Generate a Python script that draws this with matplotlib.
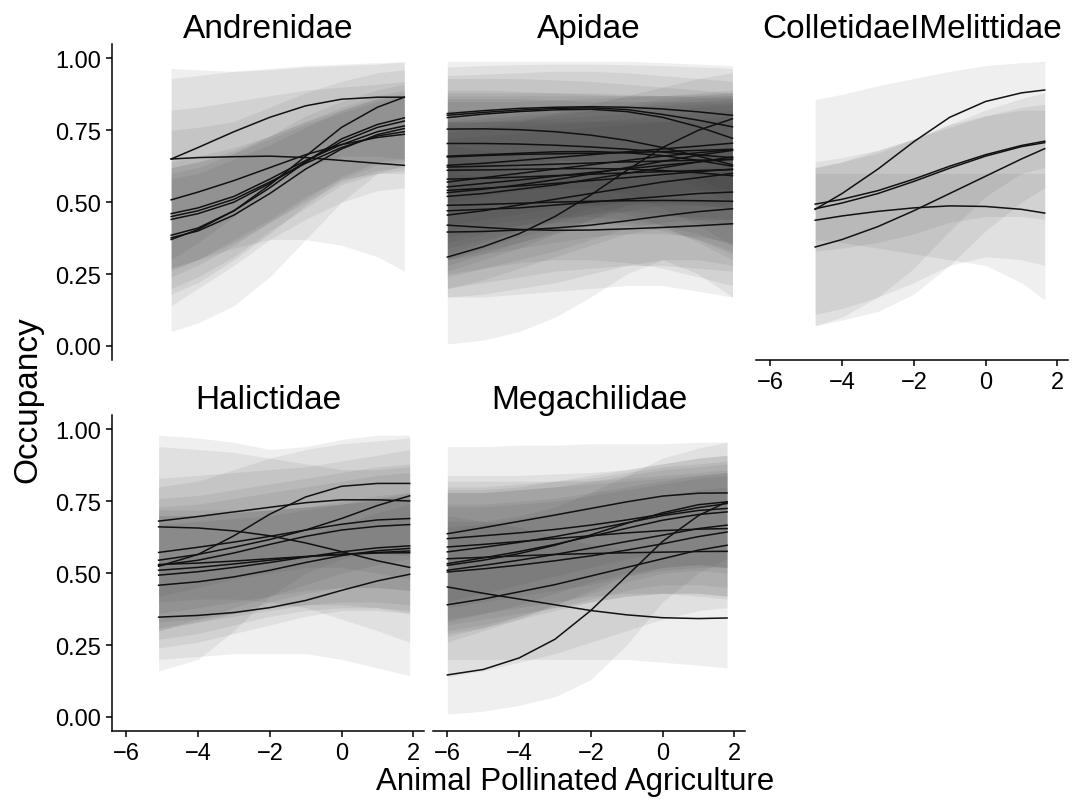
import matplotlib
matplotlib.use("Agg")
import matplotlib.pyplot as plt

plt.rcParams['font.family'] = ['Liberation Sans', 'DejaVu Sans']

# ---- datos (ocupacion por especie) ----
yticks = [0.0, 0.25, 0.5, 0.75, 1.0]
ytick_labels = ['0.00', '0.25', '0.50', '0.75', '1.00']
xticks = [-6, -4, -2, 0, 2]

# Andrenidae
andrenidae_x = [-4.75, -4, -3, -2, -1, 0, 1, 1.75]
andrenidae_mid = [
    [0.65, 0.69, 0.745, 0.795, 0.835, 0.858, 0.865, 0.865],
    [0.65, 0.655, 0.658, 0.66, 0.655, 0.645, 0.635, 0.628],
    [0.37, 0.405, 0.47, 0.56, 0.66, 0.76, 0.83, 0.865],
    [0.508, 0.535, 0.575, 0.62, 0.665, 0.70, 0.725, 0.736],
    [0.46, 0.48, 0.52, 0.58, 0.645, 0.70, 0.745, 0.765],
    [0.45, 0.47, 0.51, 0.57, 0.635, 0.69, 0.73, 0.745],
    [0.44, 0.46, 0.50, 0.565, 0.64, 0.71, 0.76, 0.782],
    [0.385, 0.41, 0.47, 0.55, 0.64, 0.72, 0.77, 0.793],
    [0.376, 0.40, 0.455, 0.53, 0.615, 0.685, 0.735, 0.756],
]
andrenidae_lo = [
    [0.30, 0.36, 0.45, 0.55, 0.62, 0.66, 0.66, 0.65],
    [0.26, 0.30, 0.34, 0.37, 0.37, 0.35, 0.31, 0.26],
    [0.05, 0.08, 0.14, 0.24, 0.37, 0.50, 0.60, 0.63],
    [0.14, 0.20, 0.28, 0.37, 0.44, 0.50, 0.54, 0.55],
    [0.27, 0.30, 0.36, 0.43, 0.50, 0.57, 0.61, 0.62],
    [0.27, 0.30, 0.37, 0.44, 0.52, 0.58, 0.60, 0.60],
    [0.24, 0.28, 0.35, 0.43, 0.51, 0.59, 0.64, 0.65],
    [0.18, 0.22, 0.30, 0.39, 0.49, 0.58, 0.63, 0.64],
    [0.20, 0.24, 0.31, 0.40, 0.48, 0.56, 0.60, 0.61],
]
andrenidae_hi = [
    [0.93, 0.94, 0.955, 0.965, 0.975, 0.98, 0.985, 0.985],
    [0.965, 0.96, 0.955, 0.96, 0.97, 0.975, 0.98, 0.99],
    [0.75, 0.76, 0.78, 0.83, 0.88, 0.92, 0.95, 0.96],
    [0.82, 0.83, 0.85, 0.87, 0.89, 0.90, 0.91, 0.92],
    [0.64, 0.66, 0.69, 0.73, 0.78, 0.82, 0.86, 0.87],
    [0.62, 0.64, 0.67, 0.72, 0.77, 0.81, 0.85, 0.87],
    [0.62, 0.64, 0.68, 0.73, 0.78, 0.83, 0.87, 0.89],
    [0.60, 0.62, 0.67, 0.73, 0.80, 0.85, 0.89, 0.91],
    [0.58, 0.60, 0.65, 0.70, 0.76, 0.82, 0.86, 0.88],
]

# Apidae
apidae_x = [-6, -5, -4, -3, -2, -1, 0, 1, 1.95]
apidae_mid = [
    [0.808, 0.818, 0.826, 0.830, 0.832, 0.830, 0.824, 0.814, 0.802],
    [0.802, 0.812, 0.820, 0.826, 0.828, 0.822, 0.805, 0.785, 0.762],
    [0.794, 0.806, 0.815, 0.821, 0.823, 0.815, 0.795, 0.762, 0.722],
    [0.754, 0.755, 0.752, 0.745, 0.733, 0.715, 0.690, 0.660, 0.630],
    [0.704, 0.704, 0.702, 0.698, 0.692, 0.684, 0.674, 0.664, 0.655],
    [0.657, 0.662, 0.666, 0.668, 0.670, 0.672, 0.676, 0.680, 0.684],
    [0.628, 0.635, 0.645, 0.655, 0.665, 0.675, 0.685, 0.695, 0.705],
    [0.622, 0.625, 0.628, 0.632, 0.636, 0.640, 0.643, 0.646, 0.648],
    [0.611, 0.612, 0.614, 0.616, 0.617, 0.615, 0.610, 0.602, 0.592],
    [0.570, 0.585, 0.600, 0.615, 0.630, 0.645, 0.660, 0.672, 0.682],
    [0.553, 0.565, 0.577, 0.590, 0.603, 0.616, 0.628, 0.640, 0.650],
    [0.541, 0.548, 0.556, 0.565, 0.575, 0.585, 0.596, 0.606, 0.615],
    [0.533, 0.545, 0.560, 0.578, 0.598, 0.620, 0.642, 0.663, 0.680],
    [0.489, 0.492, 0.496, 0.500, 0.503, 0.505, 0.506, 0.505, 0.503],
    [0.455, 0.470, 0.490, 0.510, 0.530, 0.550, 0.570, 0.585, 0.600],
    [0.420, 0.412, 0.405, 0.402, 0.403, 0.407, 0.412, 0.418, 0.425],
    [0.396, 0.398, 0.403, 0.410, 0.420, 0.435, 0.452, 0.467, 0.477],
    [0.309, 0.345, 0.390, 0.450, 0.525, 0.610, 0.690, 0.750, 0.790],
    [0.660, 0.665, 0.670, 0.675, 0.676, 0.672, 0.662, 0.645, 0.625],
    [0.580, 0.583, 0.587, 0.592, 0.597, 0.602, 0.606, 0.610, 0.613],
    [0.520, 0.530, 0.545, 0.560, 0.580, 0.600, 0.620, 0.640, 0.657],
    [0.470, 0.475, 0.480, 0.490, 0.500, 0.510, 0.520, 0.530, 0.535],
]
apidae_lo = [
    [0.60, 0.62, 0.64, 0.645, 0.645, 0.64, 0.62, 0.58, 0.53],
    [0.60, 0.62, 0.635, 0.645, 0.645, 0.635, 0.60, 0.55, 0.50],
    [0.50, 0.52, 0.54, 0.55, 0.55, 0.53, 0.48, 0.42, 0.35],
    [0.48, 0.49, 0.50, 0.50, 0.49, 0.46, 0.42, 0.36, 0.30],
    [0.40, 0.42, 0.44, 0.45, 0.45, 0.44, 0.42, 0.39, 0.35],
    [0.36, 0.39, 0.42, 0.44, 0.46, 0.47, 0.46, 0.44, 0.42],
    [0.34, 0.37, 0.40, 0.43, 0.46, 0.49, 0.50, 0.50, 0.49],
    [0.42, 0.44, 0.46, 0.48, 0.49, 0.50, 0.50, 0.49, 0.48],
    [0.30, 0.34, 0.38, 0.41, 0.43, 0.43, 0.41, 0.37, 0.32],
    [0.32, 0.36, 0.40, 0.44, 0.48, 0.51, 0.53, 0.54, 0.53],
    [0.28, 0.32, 0.36, 0.40, 0.44, 0.47, 0.49, 0.49, 0.48],
    [0.30, 0.33, 0.36, 0.39, 0.42, 0.44, 0.45, 0.45, 0.44],
    [0.26, 0.30, 0.34, 0.39, 0.44, 0.49, 0.52, 0.54, 0.55],
    [0.25, 0.27, 0.29, 0.30, 0.30, 0.29, 0.27, 0.24, 0.21],
    [0.20, 0.23, 0.27, 0.31, 0.35, 0.39, 0.41, 0.42, 0.42],
    [0.17, 0.17, 0.18, 0.19, 0.20, 0.21, 0.21, 0.19, 0.17],
    [0.17, 0.18, 0.20, 0.22, 0.25, 0.28, 0.30, 0.30, 0.28],
    [0.007, 0.02, 0.05, 0.10, 0.17, 0.25, 0.30, 0.25, 0.17],
    [0.38, 0.40, 0.42, 0.43, 0.43, 0.42, 0.40, 0.37, 0.33],
    [0.30, 0.32, 0.34, 0.36, 0.38, 0.39, 0.39, 0.38, 0.36],
    [0.24, 0.27, 0.30, 0.33, 0.37, 0.41, 0.43, 0.44, 0.44],
    [0.20, 0.22, 0.24, 0.26, 0.27, 0.28, 0.28, 0.27, 0.26],
]
apidae_hi = [
    [0.97, 0.975, 0.978, 0.98, 0.98, 0.978, 0.975, 0.97, 0.965],
    [0.94, 0.945, 0.95, 0.955, 0.955, 0.95, 0.94, 0.93, 0.92],
    [0.99, 0.99, 0.99, 0.99, 0.99, 0.99, 0.985, 0.98, 0.975],
    [0.93, 0.93, 0.93, 0.925, 0.92, 0.91, 0.90, 0.89, 0.88],
    [0.89, 0.89, 0.885, 0.88, 0.875, 0.87, 0.87, 0.87, 0.87],
    [0.87, 0.87, 0.87, 0.87, 0.87, 0.87, 0.87, 0.875, 0.88],
    [0.85, 0.85, 0.85, 0.855, 0.86, 0.865, 0.87, 0.88, 0.89],
    [0.78, 0.78, 0.78, 0.78, 0.78, 0.78, 0.78, 0.78, 0.78],
    [0.86, 0.86, 0.86, 0.855, 0.85, 0.85, 0.85, 0.85, 0.85],
    [0.79, 0.80, 0.81, 0.82, 0.83, 0.84, 0.86, 0.87, 0.88],
    [0.78, 0.79, 0.80, 0.81, 0.82, 0.83, 0.84, 0.85, 0.86],
    [0.76, 0.76, 0.765, 0.77, 0.78, 0.79, 0.80, 0.81, 0.82],
    [0.77, 0.78, 0.79, 0.80, 0.82, 0.83, 0.85, 0.86, 0.87],
    [0.66, 0.64, 0.62, 0.60, 0.60, 0.60, 0.61, 0.62, 0.63],
    [0.72, 0.73, 0.74, 0.75, 0.76, 0.77, 0.78, 0.79, 0.80],
    [0.64, 0.62, 0.60, 0.58, 0.58, 0.58, 0.59, 0.60, 0.61],
    [0.60, 0.59, 0.59, 0.60, 0.61, 0.63, 0.65, 0.67, 0.68],
    [0.74, 0.76, 0.78, 0.81, 0.84, 0.87, 0.90, 0.93, 0.95],
    [0.88, 0.88, 0.88, 0.88, 0.88, 0.875, 0.87, 0.865, 0.86],
    [0.82, 0.82, 0.82, 0.82, 0.825, 0.83, 0.835, 0.84, 0.845],
    [0.78, 0.78, 0.785, 0.79, 0.80, 0.81, 0.82, 0.83, 0.84],
    [0.70, 0.68, 0.66, 0.64, 0.62, 0.60, 0.60, 0.60, 0.60],
]

# ColletidaeIMelittidae
colletidae_x = [-4.75, -4, -3, -2, -1, 0, 1, 1.65]
colletidae_mid = [
    [0.475, 0.53, 0.615, 0.71, 0.795, 0.85, 0.88, 0.89],
    [0.493, 0.51, 0.54, 0.58, 0.625, 0.665, 0.697, 0.712],
    [0.477, 0.497, 0.53, 0.572, 0.618, 0.66, 0.693, 0.707],
    [0.437, 0.452, 0.468, 0.48, 0.487, 0.485, 0.475, 0.462],
    [0.344, 0.37, 0.415, 0.47, 0.53, 0.59, 0.65, 0.686],
]
colletidae_lo = [
    [0.07, 0.10, 0.17, 0.27, 0.40, 0.52, 0.60, 0.62],
    [0.33, 0.34, 0.36, 0.39, 0.43, 0.45, 0.45, 0.44],
    [0.11, 0.13, 0.17, 0.22, 0.28, 0.31, 0.30, 0.28],
    [0.37, 0.36, 0.34, 0.32, 0.30, 0.28, 0.22, 0.16],
    [0.07, 0.09, 0.12, 0.18, 0.28, 0.40, 0.50, 0.55],
]
colletidae_hi = [
    [0.857, 0.875, 0.905, 0.93, 0.955, 0.975, 0.985, 0.99],
    [0.64, 0.655, 0.68, 0.72, 0.76, 0.80, 0.83, 0.84],
    [0.62, 0.64, 0.68, 0.72, 0.77, 0.82, 0.86, 0.88],
    [0.60, 0.60, 0.60, 0.60, 0.60, 0.60, 0.60, 0.60],
    [0.62, 0.64, 0.67, 0.72, 0.77, 0.80, 0.82, 0.82],
]

# Halictidae
halictidae_x = [-5.1, -4, -3, -2, -1, 0, 1, 1.9]
halictidae_mid = [
    [0.681, 0.697, 0.713, 0.729, 0.745, 0.755, 0.755, 0.751],
    [0.661, 0.657, 0.647, 0.630, 0.605, 0.575, 0.543, 0.520],
    [0.524, 0.565, 0.630, 0.705, 0.765, 0.802, 0.812, 0.812],
    [0.545, 0.565, 0.590, 0.617, 0.650, 0.690, 0.735, 0.769],
    [0.572, 0.590, 0.608, 0.628, 0.650, 0.670, 0.685, 0.690],
    [0.527, 0.545, 0.570, 0.600, 0.628, 0.650, 0.663, 0.669],
    [0.493, 0.505, 0.520, 0.537, 0.556, 0.574, 0.588, 0.595],
    [0.458, 0.470, 0.487, 0.510, 0.537, 0.561, 0.578, 0.586],
    [0.347, 0.353, 0.363, 0.380, 0.405, 0.440, 0.473, 0.496],
    [0.530, 0.535, 0.542, 0.550, 0.558, 0.566, 0.572, 0.577],
    [0.510, 0.520, 0.532, 0.545, 0.557, 0.565, 0.570, 0.571],
]
halictidae_lo = [
    [0.42, 0.45, 0.48, 0.50, 0.52, 0.52, 0.50, 0.48],
    [0.40, 0.41, 0.41, 0.40, 0.38, 0.34, 0.30, 0.26],
    [0.16, 0.20, 0.30, 0.42, 0.50, 0.55, 0.57, 0.56],
    [0.30, 0.34, 0.38, 0.42, 0.46, 0.50, 0.53, 0.55],
    [0.36, 0.38, 0.40, 0.42, 0.44, 0.45, 0.45, 0.44],
    [0.30, 0.33, 0.36, 0.40, 0.43, 0.45, 0.45, 0.44],
    [0.27, 0.29, 0.32, 0.35, 0.37, 0.38, 0.38, 0.37],
    [0.24, 0.26, 0.29, 0.32, 0.35, 0.37, 0.37, 0.36],
    [0.20, 0.21, 0.22, 0.22, 0.22, 0.20, 0.17, 0.144],
    [0.33, 0.34, 0.36, 0.38, 0.39, 0.39, 0.38, 0.36],
    [0.31, 0.33, 0.35, 0.37, 0.39, 0.40, 0.40, 0.39],
]
halictidae_hi = [
    [0.98, 0.97, 0.955, 0.93, 0.94, 0.965, 0.98, 0.98],
    [0.94, 0.93, 0.92, 0.90, 0.88, 0.86, 0.86, 0.87],
    [0.80, 0.82, 0.86, 0.90, 0.93, 0.95, 0.96, 0.97],
    [0.83, 0.84, 0.85, 0.86, 0.87, 0.89, 0.91, 0.93],
    [0.76, 0.77, 0.79, 0.81, 0.83, 0.85, 0.87, 0.88],
    [0.73, 0.74, 0.76, 0.78, 0.80, 0.82, 0.84, 0.85],
    [0.70, 0.70, 0.71, 0.72, 0.73, 0.75, 0.77, 0.78],
    [0.67, 0.68, 0.69, 0.70, 0.72, 0.74, 0.76, 0.78],
    [0.55, 0.56, 0.58, 0.60, 0.63, 0.67, 0.71, 0.74],
    [0.72, 0.72, 0.72, 0.72, 0.73, 0.74, 0.76, 0.77],
    [0.70, 0.70, 0.71, 0.72, 0.73, 0.74, 0.75, 0.76],
]

# Megachilidae
megachilidae_x = [-6, -5, -4, -3, -2, -1, 0, 1, 1.8]
megachilidae_mid = [
    [0.637, 0.658, 0.680, 0.702, 0.725, 0.748, 0.768, 0.778, 0.779],
    [0.620, 0.630, 0.640, 0.652, 0.667, 0.685, 0.705, 0.728, 0.742],
    [0.591, 0.600, 0.610, 0.620, 0.630, 0.640, 0.648, 0.653, 0.655],
    [0.574, 0.590, 0.607, 0.627, 0.650, 0.675, 0.700, 0.718, 0.725],
    [0.533, 0.553, 0.575, 0.600, 0.628, 0.656, 0.684, 0.704, 0.713],
    [0.527, 0.545, 0.568, 0.597, 0.633, 0.673, 0.710, 0.738, 0.748],
    [0.510, 0.527, 0.545, 0.565, 0.587, 0.610, 0.632, 0.655, 0.667],
    [0.504, 0.515, 0.528, 0.543, 0.560, 0.580, 0.602, 0.627, 0.643],
    [0.452, 0.430, 0.410, 0.390, 0.370, 0.355, 0.345, 0.342, 0.344],
    [0.390, 0.410, 0.435, 0.460, 0.490, 0.520, 0.550, 0.580, 0.597],
    [0.146, 0.165, 0.205, 0.270, 0.370, 0.490, 0.610, 0.700, 0.748],
    [0.550, 0.555, 0.560, 0.565, 0.568, 0.571, 0.573, 0.575, 0.576],
]
megachilidae_lo = [
    [0.40, 0.43, 0.46, 0.49, 0.52, 0.55, 0.57, 0.58, 0.57],
    [0.38, 0.40, 0.42, 0.44, 0.46, 0.49, 0.51, 0.52, 0.52],
    [0.34, 0.36, 0.38, 0.40, 0.42, 0.43, 0.43, 0.42, 0.41],
    [0.33, 0.36, 0.39, 0.43, 0.47, 0.50, 0.52, 0.53, 0.52],
    [0.28, 0.31, 0.35, 0.39, 0.43, 0.47, 0.50, 0.51, 0.50],
    [0.26, 0.30, 0.34, 0.39, 0.44, 0.49, 0.52, 0.53, 0.52],
    [0.30, 0.32, 0.35, 0.38, 0.41, 0.44, 0.46, 0.46, 0.45],
    [0.29, 0.31, 0.34, 0.37, 0.40, 0.42, 0.43, 0.43, 0.42],
    [0.20, 0.20, 0.20, 0.20, 0.20, 0.20, 0.19, 0.18, 0.17],
    [0.14, 0.16, 0.19, 0.22, 0.26, 0.30, 0.34, 0.37, 0.38],
    [0.01, 0.02, 0.04, 0.07, 0.13, 0.25, 0.40, 0.50, 0.55],
    [0.32, 0.34, 0.36, 0.38, 0.40, 0.42, 0.43, 0.43, 0.42],
]
megachilidae_hi = [
    [0.94, 0.94, 0.945, 0.945, 0.95, 0.95, 0.95, 0.955, 0.956],
    [0.84, 0.84, 0.84, 0.845, 0.85, 0.86, 0.88, 0.90, 0.91],
    [0.82, 0.82, 0.82, 0.82, 0.82, 0.83, 0.84, 0.85, 0.86],
    [0.80, 0.80, 0.81, 0.82, 0.83, 0.85, 0.87, 0.88, 0.89],
    [0.78, 0.78, 0.79, 0.80, 0.82, 0.84, 0.86, 0.87, 0.88],
    [0.79, 0.79, 0.80, 0.82, 0.84, 0.86, 0.88, 0.90, 0.91],
    [0.74, 0.74, 0.75, 0.76, 0.78, 0.80, 0.82, 0.84, 0.85],
    [0.73, 0.73, 0.74, 0.75, 0.77, 0.79, 0.81, 0.83, 0.84],
    [0.70, 0.68, 0.66, 0.63, 0.60, 0.58, 0.57, 0.57, 0.58],
    [0.66, 0.67, 0.69, 0.71, 0.73, 0.75, 0.77, 0.79, 0.80],
    [0.68, 0.68, 0.70, 0.73, 0.78, 0.84, 0.90, 0.935, 0.955],
    [0.78, 0.78, 0.79, 0.80, 0.81, 0.82, 0.83, 0.84, 0.85],
]

# familia, datos, posicion del panel (px), eje y?, eje x?
paneles = [
    ('Andrenidae', andrenidae_x, andrenidae_mid, andrenidae_lo, andrenidae_hi, (112, 45), True, False),
    ('Apidae', apidae_x, apidae_mid, apidae_lo, apidae_hi, (433, 45), False, False),
    ('ColletidaeIMelittidae', colletidae_x, colletidae_mid, colletidae_lo, colletidae_hi, (756, 45), False, True),
    ('Halictidae', halictidae_x, halictidae_mid, halictidae_lo, halictidae_hi, (112, 416), True, True),
    ('Megachilidae', megachilidae_x, megachilidae_mid, megachilidae_lo, megachilidae_hi, (433, 416), False, True),
]

W, H = 1072, 804
fig = plt.figure(figsize=(W / 100, H / 100), dpi=100)
pw, ph = 312, 316

for nombre, xs, mids, los, his, (px, py), eje_y, eje_x in paneles:
    ax = fig.add_axes([px / W, 1 - (py + ph) / H, pw / W, ph / H])
    # bandas de credibilidad
    for lo, hi in zip(los, his):
        ax.fill_between(xs, lo, hi, color='#333333', alpha=0.08, linewidth=0)
    # curvas por especie
    for mid in mids:
        ax.plot(xs, mid, color='#111111', linewidth=1.1)

    ax.set_xlim(-6.4, 2.3)
    ax.set_ylim(-0.049, 1.05)
    ax.set_title(nombre, fontsize=24, pad=4)

    for s in ['top', 'right']:
        ax.spines[s].set_visible(False)
    ax.spines['left'].set_visible(eje_y)
    ax.spines['bottom'].set_visible(eje_x)
    for s in ['left', 'bottom']:
        ax.spines[s].set_linewidth(1.1)

    ax.tick_params(axis='both', length=4, width=1.1, labelsize=17, pad=4, colors='black')
    if eje_y:
        ax.set_yticks(yticks)
        ax.set_yticklabels(ytick_labels)
    else:
        ax.set_yticks([])
    if eje_x:
        ax.set_xticks(xticks)
    else:
        ax.set_xticks([])

fig.text(28 / W, 1 - 400 / H, 'Occupancy', rotation=90, fontsize=24, ha='center', va='center')
fig.text(575 / W, 1 - 782 / H, 'Animal Pollinated Agriculture', fontsize=22.5, ha='center', va='center')

fig.savefig('out.png', dpi=100)
